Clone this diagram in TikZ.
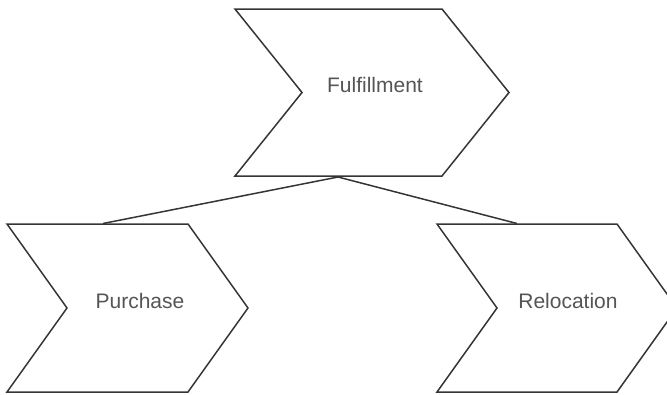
\documentclass[tikz,border=0pt]{standalone}
\usepackage{fontspec}
\setmainfont{Liberation Sans}
\definecolor{edge}{HTML}{353535}
\definecolor{txt}{HTML}{555555}
\tikzset{
  chev/.style={draw=edge, line width=1.5pt, line join=miter, fill=white},
  lbl/.style={text=txt, font=\fontsize{21}{25}\selectfont, inner sep=0pt},
  link/.style={draw=edge, line width=1.5pt}
}
\begin{document}
\begin{tikzpicture}[x=1pt,y=-1pt]
\clip (0,0) rectangle (667,394);
\useasboundingbox (0,0) rectangle (667,394);
% chevrons
\draw[chev] (235,9) -- (442,9) -- (509,92.5) -- (442,176) -- (235,176) -- (302,92.5) -- cycle;
\draw[chev] (7,224) -- (188,224) -- (248,308) -- (188,392) -- (7,392) -- (67,308) -- cycle;
\draw[chev] (437,224) -- (617,224) -- (677,308) -- (617,392) -- (437,392) -- (497,308) -- cycle;
% labels
\node[lbl] (ful) at (375,85) {Fulfillment};
\node[lbl] (pur) at (140,301) {Purchase};
\node[lbl] (rel) at (568,301) {Relocation};
% connector ends
\coordinate (fulb) at (338,177);
\coordinate (purt) at (103,223.5);
\coordinate (relt) at (517,223.5);
\draw[link] (fulb) -- (purt);
\draw[link] (fulb) -- (relt);
\end{tikzpicture}
\end{document}
